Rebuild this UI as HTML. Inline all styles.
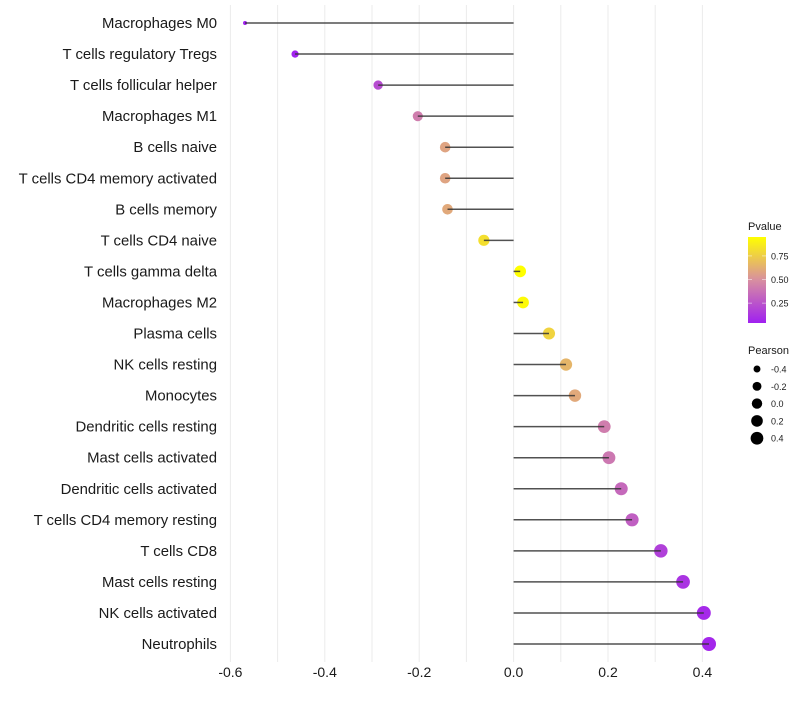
<!DOCTYPE html>
<html><head><meta charset="utf-8"><style>
body{margin:0;background:#fff;font-family:"Liberation Sans",sans-serif}
</style></head><body>
<svg id="chart" width="800" height="700" xmlns="http://www.w3.org/2000/svg"></svg>
<script>
const categories=["Macrophages M0","T cells regulatory  Tregs","T cells follicular helper","Macrophages M1","B cells naive","T cells CD4 memory activated","B cells memory","T cells CD4 naive","T cells gamma delta","Macrophages M2","Plasma cells","NK cells resting","Monocytes","Dendritic cells resting","Mast cells activated","Dendritic cells activated","T cells CD4 memory resting","T cells CD8","Mast cells resting","NK cells activated","Neutrophils"];
const pearson=[-0.569,-0.463,-0.287,-0.203,-0.145,-0.145,-0.140,-0.063,0.014,0.020,0.075,0.111,0.130,0.192,0.202,0.228,0.251,0.312,0.359,0.403,0.414];
const pvalue=[0.02,0.05,0.22,0.42,0.58,0.58,0.6,0.82,0.95,0.93,0.77,0.65,0.6,0.42,0.4,0.34,0.3,0.17,0.12,0.08,0.07];
const xTicks=[-0.6,-0.4,-0.2,0.0,0.2,0.4];
const xTickLabels=["-0.6","-0.4","-0.2","0.0","0.2","0.4"];
const sizeLegend=[-0.4,-0.2,0.0,0.2,0.4];
const pLegend=[0.25,0.5,0.75];

const NS="http://www.w3.org/2000/svg";
const svg=document.getElementById('chart');
function mk(t,a,p){const e=document.createElementNS(NS,t);for(const k in a)e.setAttribute(k,a[k]);(p||svg).appendChild(e);return e;}
const x=v=>513.6+v*472;
const y=i=>23+i*31.05;
const pMin=0.04,pMax=0.95;
function lerp(a,b,t){return a+(b-a)*t;}
const stops=[[0,[160,32,240]],[0.5,[216,143,160]],[1,[255,255,0]]];
function color(p){let t=Math.max(0,Math.min(1,(p-pMin)/(pMax-pMin)));let i=t<0.5?0:1;let a=stops[i],b=stops[i+1];let u=(t-a[0])/(b[0]-a[0]);return `rgb(${a[1].map((c,k)=>Math.round(lerp(c,b[1][k],u))).join(',')})`;}
function radius(v){const t=Math.max(0,Math.min(1,(v+0.569)/0.983));return 2+5*Math.sqrt(t);}

for(let g=-0.6;g<=0.41;g+=0.1){
  const l=mk('line',{x1:x(g),x2:x(g),y1:5,y2:662,stroke:'#ebebeb','stroke-width':1});
  
  
}
xTicks.forEach((t,i)=>{
  const tx=mk('text',{x:x(t),y:677,'text-anchor':'middle','font-size':14,fill:'#1a1a1a'});
  tx.textContent=xTickLabels[i];
  
  
});
categories.forEach((c,i)=>{
  const tx=mk('text',{x:217,y:y(i)+5,'text-anchor':'end','font-size':14.9,fill:'#1a1a1a'});
  tx.textContent=c;
  
  
  const d=mk('circle',{cx:x(pearson[i]),cy:y(i),r:radius(pearson[i]),fill:color(pvalue[i])});
  
  
  const l=mk('line',{x1:x(0),x2:x(pearson[i]),y1:y(i),y2:y(i),stroke:'#333','stroke-width':1.5,opacity:0.85});
  
  
});
const lg=mk('g',{});


const tt=mk('text',{x:748,y:230,'font-size':11,fill:'#1a1a1a'},lg);tt.textContent='Pvalue';
const defs=mk('defs',{});
const gr=mk('linearGradient',{id:'pg',x1:0,y1:1,x2:0,y2:0},defs);
stops.forEach(s=>mk('stop',{offset:s[0],'stop-color':`rgb(${s[1].join(',')})`},gr));
mk('rect',{x:748,y:237,width:18,height:86,fill:'url(#pg)'},lg);
const py=p=>323-(p-pMin)/(pMax-pMin)*86;
pLegend.forEach(p=>{
  mk('line',{x1:748,x2:752,y1:py(p),y2:py(p),stroke:'#fff','stroke-width':0.8,opacity:0.6},lg);
  mk('line',{x1:762,x2:766,y1:py(p),y2:py(p),stroke:'#fff','stroke-width':0.8,opacity:0.6},lg);
  const t=mk('text',{x:771,y:py(p)+3.5,'font-size':9,fill:'#1a1a1a'},lg);t.textContent=p.toFixed(2);
});
const sg=mk('g',{});


const st=mk('text',{x:748,y:354,'font-size':11,fill:'#1a1a1a'},sg);st.textContent='Pearson';
sizeLegend.forEach((v,i)=>{
  const cy=369+i*17.3;
  mk('circle',{cx:757,cy:cy,r:radius(v)-0.6,fill:'#000'},sg);
  const t=mk('text',{x:771,y:cy+3.5,'font-size':9,fill:'#1a1a1a'},sg);t.textContent=v.toFixed(1);
});
</script>
</body></html>
